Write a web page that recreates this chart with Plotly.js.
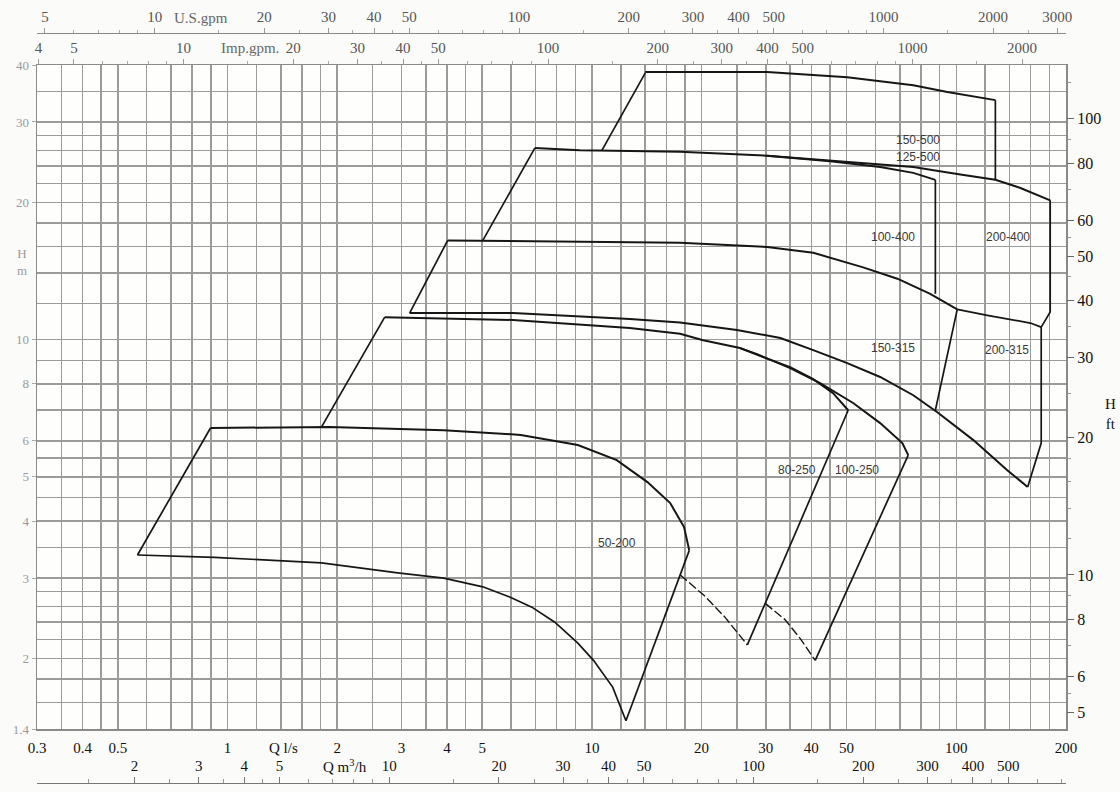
<!DOCTYPE html>
<html>
<head>
<meta charset="utf-8">
<script src="https://cdn.plot.ly/plotly-3.0.1.min.js"></script>
<style>
  html, body { margin: 0; padding: 0; background: #fbfbfa; }
  #chart { width: 1120px; height: 792px; }
</style>
</head>
<body>
<div id="chart"></div>
<script>
// Pump selection chart: flow Q in l/s (x), head H in m (y), log-log.

// ---- 50-200 ----
const q_50_200_top = [0.898, 1.91, 3.92, 6.38, 9.15, 11.7, 14.2, 16.4, 17.9, 18.5];
const h_50_200_top = [6.40, 6.43, 6.33, 6.18, 5.87, 5.44, 4.87, 4.38, 3.88, 3.45];
const q_50_200_bottom = [0.566, 0.92, 1.81, 2.93, 3.92, 5.02, 5.99, 6.84, 7.91, 9.15, 10.1, 11.4, 12.4];
const h_50_200_bottom = [3.37, 3.33, 3.24, 3.08, 3.00, 2.87, 2.72, 2.59, 2.40, 2.16, 1.98, 1.73, 1.46];
const q_50_200_left = [0.566, 0.898];
const h_50_200_left = [3.37, 6.40];
const q_50_200_right = [18.5, 12.4];
const h_50_200_right = [3.45, 1.46];

// ---- 80-250 ----
const q_80_250_left = [1.81, 2.70];
const h_80_250_left = [6.43, 11.2];
const q_80_250_top = [2.70, 6.07, 12.7, 17.45, 20.2, 25.5, 29.5, 35.0, 40.5, 45.9, 50.5];
const h_80_250_top = [11.2, 11.04, 10.6, 10.3, 9.97, 9.58, 9.15, 8.70, 8.19, 7.63, 7.0];
const q_80_250_right = [50.5, 26.7];
const h_80_250_right = [7.0, 2.14];
const q_80_250_bottom = [17.45, 20.4, 23.2, 26.7];
const h_80_250_bottom = [3.05, 2.74, 2.46, 2.14];

// ---- 100-250 ----
const q_100_250_top = [25.5, 28.4, 35.0, 42.3, 52.1, 61.8, 71.1, 73.8];
const h_100_250_top = [9.58, 9.29, 8.66, 8.03, 7.26, 6.56, 5.93, 5.58];
const q_100_250_right = [73.8, 41.0];
const h_100_250_right = [5.58, 1.98];
const q_100_250_bottom = [29.9, 33.9, 37.3, 41.0];
const h_100_250_bottom = [2.64, 2.43, 2.21, 1.98];

// ---- 150-315 / 200-315 lower boundary ----
const q_150_315_low = [3.16, 6.07, 12.7, 17.45, 25.0, 32.9, 40.5, 50.2, 61.8, 76.2, 88.7, 111.4, 138, 157];
const h_150_315_low = [11.43, 11.43, 11.1, 10.9, 10.5, 10.08, 9.48, 8.88, 8.28, 7.55, 6.93, 6.02, 5.17, 4.75];

// ---- 100-400 ----
const q_100_400_left = [3.16, 4.02];
const h_100_400_left = [11.43, 16.5];
const q_100_400_top = [4.02, 8.32, 17.45, 30.25, 40.5, 55.5, 68.9, 84.8, 100.6];
const h_100_400_top = [16.5, 16.4, 16.3, 15.96, 15.5, 14.4, 13.6, 12.6, 11.65];

// ---- 200-315 ----
const q_200_315_left = [100.6, 87.6];
const h_200_315_left = [11.65, 7.0];
const q_200_315_top = [100.6, 121.7, 159.7, 171];
const h_200_315_top = [11.65, 11.3, 10.87, 10.65];

// ---- 200-400 ----
const q_200_400_top = [30.25, 50.2, 76.2, 102.6, 128, 150, 181];
const h_200_400_top = [25.3, 24.5, 23.9, 23.0, 22.4, 21.5, 20.2];
const q_200_400_right = [181, 181, 171, 171, 157];
const h_200_400_right = [20.2, 11.5, 10.65, 5.93, 4.75];

// ---- 125-500 ----
const q_125_500_left = [5.02, 6.97];
const h_125_500_left = [16.5, 26.3];
const q_125_500_top = [6.97, 9.27, 17.45, 30.25, 45.1, 61.8, 76.2, 87.6];
const h_125_500_top = [26.3, 26.0, 25.8, 25.3, 24.6, 23.9, 23.2, 22.4];
const q_125_500_right = [87.6, 87.6];
const h_125_500_right = [22.4, 12.6];

// ---- 150-500 ----
const q_150_500_left = [10.65, 14.0];
const h_150_500_left = [26.0, 38.4];
const q_150_500_top = [14.0, 30.25, 50.2, 76.2, 94.5, 128];
const h_150_500_top = [38.6, 38.6, 37.6, 36.1, 34.9, 33.5];
const q_150_500_right = [128, 128];
const h_150_500_right = [33.5, 22.4];

// Model names and where they are written (Q l/s, H m)
const modelNames = ["150-500", "125-500", "100-400", "200-400", "150-315", "200-315", "80-250", "100-250", "50-200"];
const modelNameQ = [78.6, 78.6, 67.1, 139, 67.1, 138, 36.6, 53.5, 11.7];
const modelNameH = [27.4, 25.1, 16.8, 16.8, 9.58, 9.48, 5.17, 5.17, 3.58];

// Grid and tick values
const gridQ = [0.3,0.35,0.4,0.45,0.5,0.6,0.7,0.8,0.9,1,1.2,1.4,1.6,1.8,2,2.5,3,3.5,4,4.5,5,6,7,8,9,
               10,12,14,16,18,20,25,30,35,40,45,50,60,70,80,90,100,120,140,160,180,200];
const gridH = [1.4,1.6,1.8,2,2.2,2.4,2.6,2.8,3,3.5,4,4.5,5,5.5,6,7,8,9,10,12,14,16,18,20,22,24,26,28,30,35,40];
const tickLs = [0.3,0.4,0.5,1,2,3,4,5,10,20,30,40,50,100,200];
const tickM3h = [2,3,4,5,10,20,30,40,50,100,200,300,400,500];
const minorM3h = [1.5,2.5,3.5,4.5,6,7,8,9,15,25,35,45,60,70,80,90,150,250,350,450,600,700];
const tickUS = [5,10,20,30,40,50,100,200,300,400,500,1000,2000,3000];
const minorUS = [6,7,8,9,15,25,35,45,60,70,80,90,150,250,350,450,600,700,800,900,1500,2500];
const tickImp = [4,5,10,20,30,40,50,100,200,300,400,500,1000,2000];
const minorImp = [6,7,8,9,15,25,35,45,60,70,80,90,150,250,350,450,600,700,800,900,1500];
const tickHm = [1.4,2,3,4,5,6,8,10,20,30,40];
const tickHft = [5,6,8,10,20,30,40,50,60,80,100];
const minorHft = [5.5,7,9,12,14,16,18,25,35,45,55,70,90,120];

const L = Math.log10;
const M3H_PER_LS = 3.6, USGPM_PER_LS = 15.8503, IMPGPM_PER_LS = 13.1982, FT_PER_M = 3.28084;
const qMin = 0.3, qMax = 200, hMin = 1.4, hMax = 40;

const ink = '#161616';
function line(q, h, w, dash) {
  return { x: q, y: h, type: 'scatter', mode: 'lines', xaxis: 'x', yaxis: 'y',
           line: { color: ink, width: w || 2, dash: dash || 'solid' }, hoverinfo: 'skip' };
}

const traces = [
  line(q_50_200_top, h_50_200_top, 2),
  line(q_50_200_bottom, h_50_200_bottom, 1.7),
  line(q_50_200_left, h_50_200_left, 1.7),
  line(q_50_200_right, h_50_200_right, 1.7),
  line(q_80_250_left, h_80_250_left, 1.7),
  line(q_80_250_top, h_80_250_top, 2),
  line(q_80_250_right, h_80_250_right, 1.7),
  line(q_80_250_bottom, h_80_250_bottom, 1.4, '9px,3px'),
  line(q_100_250_top, h_100_250_top, 2),
  line(q_100_250_right, h_100_250_right, 1.7),
  line(q_100_250_bottom, h_100_250_bottom, 1.4, '9px,3px'),
  line(q_150_315_low, h_150_315_low, 2),
  line(q_100_400_left, h_100_400_left, 1.7),
  line(q_100_400_top, h_100_400_top, 2),
  line(q_200_315_left, h_200_315_left, 1.7),
  line(q_200_315_top, h_200_315_top, 1.7),
  line(q_200_400_top, h_200_400_top, 2),
  line(q_200_400_right, h_200_400_right, 1.7),
  line(q_125_500_left, h_125_500_left, 1.7),
  line(q_125_500_top, h_125_500_top, 2),
  line(q_125_500_right, h_125_500_right, 1.7),
  line(q_150_500_left, h_150_500_left, 1.7),
  line(q_150_500_top, h_150_500_top, 2),
  line(q_150_500_right, h_150_500_right, 1.7),
  // empty traces so the secondary unit axes are drawn
  { x: [], y: [], type: 'scatter', xaxis: 'x2', yaxis: 'y', hoverinfo: 'skip' },
  { x: [], y: [], type: 'scatter', xaxis: 'x3', yaxis: 'y', hoverinfo: 'skip' },
  { x: [], y: [], type: 'scatter', xaxis: 'x4', yaxis: 'y', hoverinfo: 'skip' },
  { x: [], y: [], type: 'scatter', xaxis: 'x', yaxis: 'y2', hoverinfo: 'skip' }
];

const serif = 'Liberation Serif, Times New Roman, serif';
const gridCol = '#9b9b9b';
const fmt = v => String(v);

// plot box in pixels: x 37..1066, y 65..729 inside a 10px top / 5px bottom margin
const H_TOTAL = 792 - 10 - 5;
const yDom = [(787 - 729) / H_TOTAL, (787 - 65) / H_TOTAL];
const pyPaper = py => (787 - py) / H_TOTAL;

const layout = {
  width: 1120, height: 792,
  margin: { l: 37, r: 54, t: 10, b: 5, pad: 0 },
  paper_bgcolor: '#fbfbfa',
  plot_bgcolor: '#fefefc',
  showlegend: false,
  xaxis: {
    type: 'log', range: [L(qMin), L(qMax)], domain: [0, 1], anchor: 'y', side: 'bottom',
    tickmode: 'array', tickvals: tickLs, ticktext: tickLs.map(fmt), tickangle: 0,
    ticks: '', tickfont: { family: serif, size: 15, color: '#111' }, ticklabelstandoff: 4,
    showgrid: true, gridcolor: gridCol, gridwidth: 1.5,
    minor: { tickmode: 'array', tickvals: gridQ, showgrid: true, gridcolor: gridCol, gridwidth: 1.5, ticks: '' },
    showline: true, linecolor: '#8a8a8a', linewidth: 1.5, mirror: true, zeroline: false
  },
  xaxis2: {
    type: 'log', range: [L(qMin * M3H_PER_LS), L(qMax * M3H_PER_LS)], overlaying: 'x',
    anchor: 'free', position: pyPaper(783), side: 'top',
    tickmode: 'array', tickvals: tickM3h, ticktext: tickM3h.map(fmt), tickangle: 0,
    ticks: 'outside', ticklen: 6, tickcolor: '#777', tickwidth: 1,
    minor: { tickmode: 'array', tickvals: minorM3h, ticks: 'outside', ticklen: 4, tickcolor: '#999', showgrid: false },
    tickfont: { family: serif, size: 15, color: '#111' },
    showgrid: false, showline: true, linecolor: '#777', linewidth: 1.2, zeroline: false
  },
  xaxis3: {
    type: 'log', range: [L(qMin * USGPM_PER_LS), L(qMax * USGPM_PER_LS)], overlaying: 'x',
    anchor: 'free', position: pyPaper(33), side: 'top',
    tickmode: 'array', tickvals: tickUS, ticktext: tickUS.map(fmt), tickangle: 0,
    ticks: 'outside', ticklen: 5, tickcolor: '#999', tickwidth: 1,
    minor: { tickmode: 'array', tickvals: minorUS, ticks: 'outside', ticklen: 3, tickcolor: '#aaa', showgrid: false },
    tickfont: { family: serif, size: 15, color: '#555' },
    showgrid: false, showline: true, linecolor: '#888', linewidth: 1.2, zeroline: false
  },
  xaxis4: {
    type: 'log', range: [L(qMin * IMPGPM_PER_LS), L(qMax * IMPGPM_PER_LS)], overlaying: 'x',
    anchor: 'y', side: 'top',
    tickmode: 'array', tickvals: tickImp, ticktext: tickImp.map(fmt), tickangle: 0,
    ticks: 'outside', ticklen: 5, tickcolor: '#999', tickwidth: 1,
    minor: { tickmode: 'array', tickvals: minorImp, ticks: 'outside', ticklen: 3, tickcolor: '#aaa', showgrid: false },
    tickfont: { family: serif, size: 15, color: '#555' }, ticklabelstandoff: 0,
    showgrid: false, showline: false, zeroline: false
  },
  yaxis: {
    type: 'log', range: [L(hMin), L(hMax)], domain: yDom, anchor: 'x', side: 'left',
    tickmode: 'array', tickvals: tickHm, ticktext: tickHm.map(fmt),
    ticks: 'outside', ticklen: 4, tickcolor: '#aaa',
    tickfont: { family: serif, size: 13, color: '#9a9a9a' },
    showgrid: true, gridcolor: gridCol, gridwidth: 1.5,
    minor: { tickmode: 'array', tickvals: gridH, showgrid: true, gridcolor: gridCol, gridwidth: 1.5, ticks: '' },
    showline: true, linecolor: '#8a8a8a', linewidth: 1.5, mirror: true, zeroline: false
  },
  yaxis2: {
    type: 'log', range: [L(hMin * FT_PER_M), L(hMax * FT_PER_M)], overlaying: 'y', anchor: 'x', side: 'right',
    tickmode: 'array', tickvals: tickHft, ticktext: tickHft.map(fmt),
    ticks: 'outside', ticklen: 7, tickcolor: '#666',
    minor: { tickmode: 'array', tickvals: minorHft, ticks: 'outside', ticklen: 4, tickcolor: '#999', showgrid: false },
    tickfont: { family: serif, size: 16, color: '#111' },
    showgrid: false, showline: false, zeroline: false
  },
  annotations: []
};

// model labels inside the envelopes
modelNames.forEach((name, i) => {
  layout.annotations.push({
    text: name, xref: 'x', yref: 'y', x: L(modelNameQ[i]), y: L(modelNameH[i]),
    xanchor: 'center', yanchor: 'middle',
    showarrow: false, font: { family: 'Liberation Sans, Arial, sans-serif', size: 12, color: '#3a3a3a' }
  });
});

// unit captions on the scales
const unitFont = (c, s) => ({ family: serif, size: s || 15, color: c });
const caption = (text, xref, x, yref, y, font) =>
  ({ text, xref, x, yref, y, font, showarrow: false, xanchor: 'center', yanchor: 'middle' });
layout.annotations.push(
  caption('Q l/s', 'x', L(1.42), 'paper', pyPaper(748), unitFont('#111')),
  caption('Q m<sup>3</sup>/h', 'x', L(2.1), 'paper', pyPaper(766), unitFont('#111')),
  caption('U.S.gpm', 'x', L(0.843), 'paper', pyPaper(18), unitFont('#666')),
  caption('Imp.gpm.', 'x', L(1.15), 'paper', pyPaper(48), unitFont('#666')),
  caption('H<br>m', 'paper', -0.0146, 'y', L(14.8), unitFont('#9a9a9a', 13)),
  caption('H<br>ft', 'paper', (1110 - 37) / 1029, 'y', L(6.87), unitFont('#111', 15))
);

Plotly.newPlot('chart', traces, layout, { staticPlot: true, displayModeBar: false });
</script>
</body>
</html>
